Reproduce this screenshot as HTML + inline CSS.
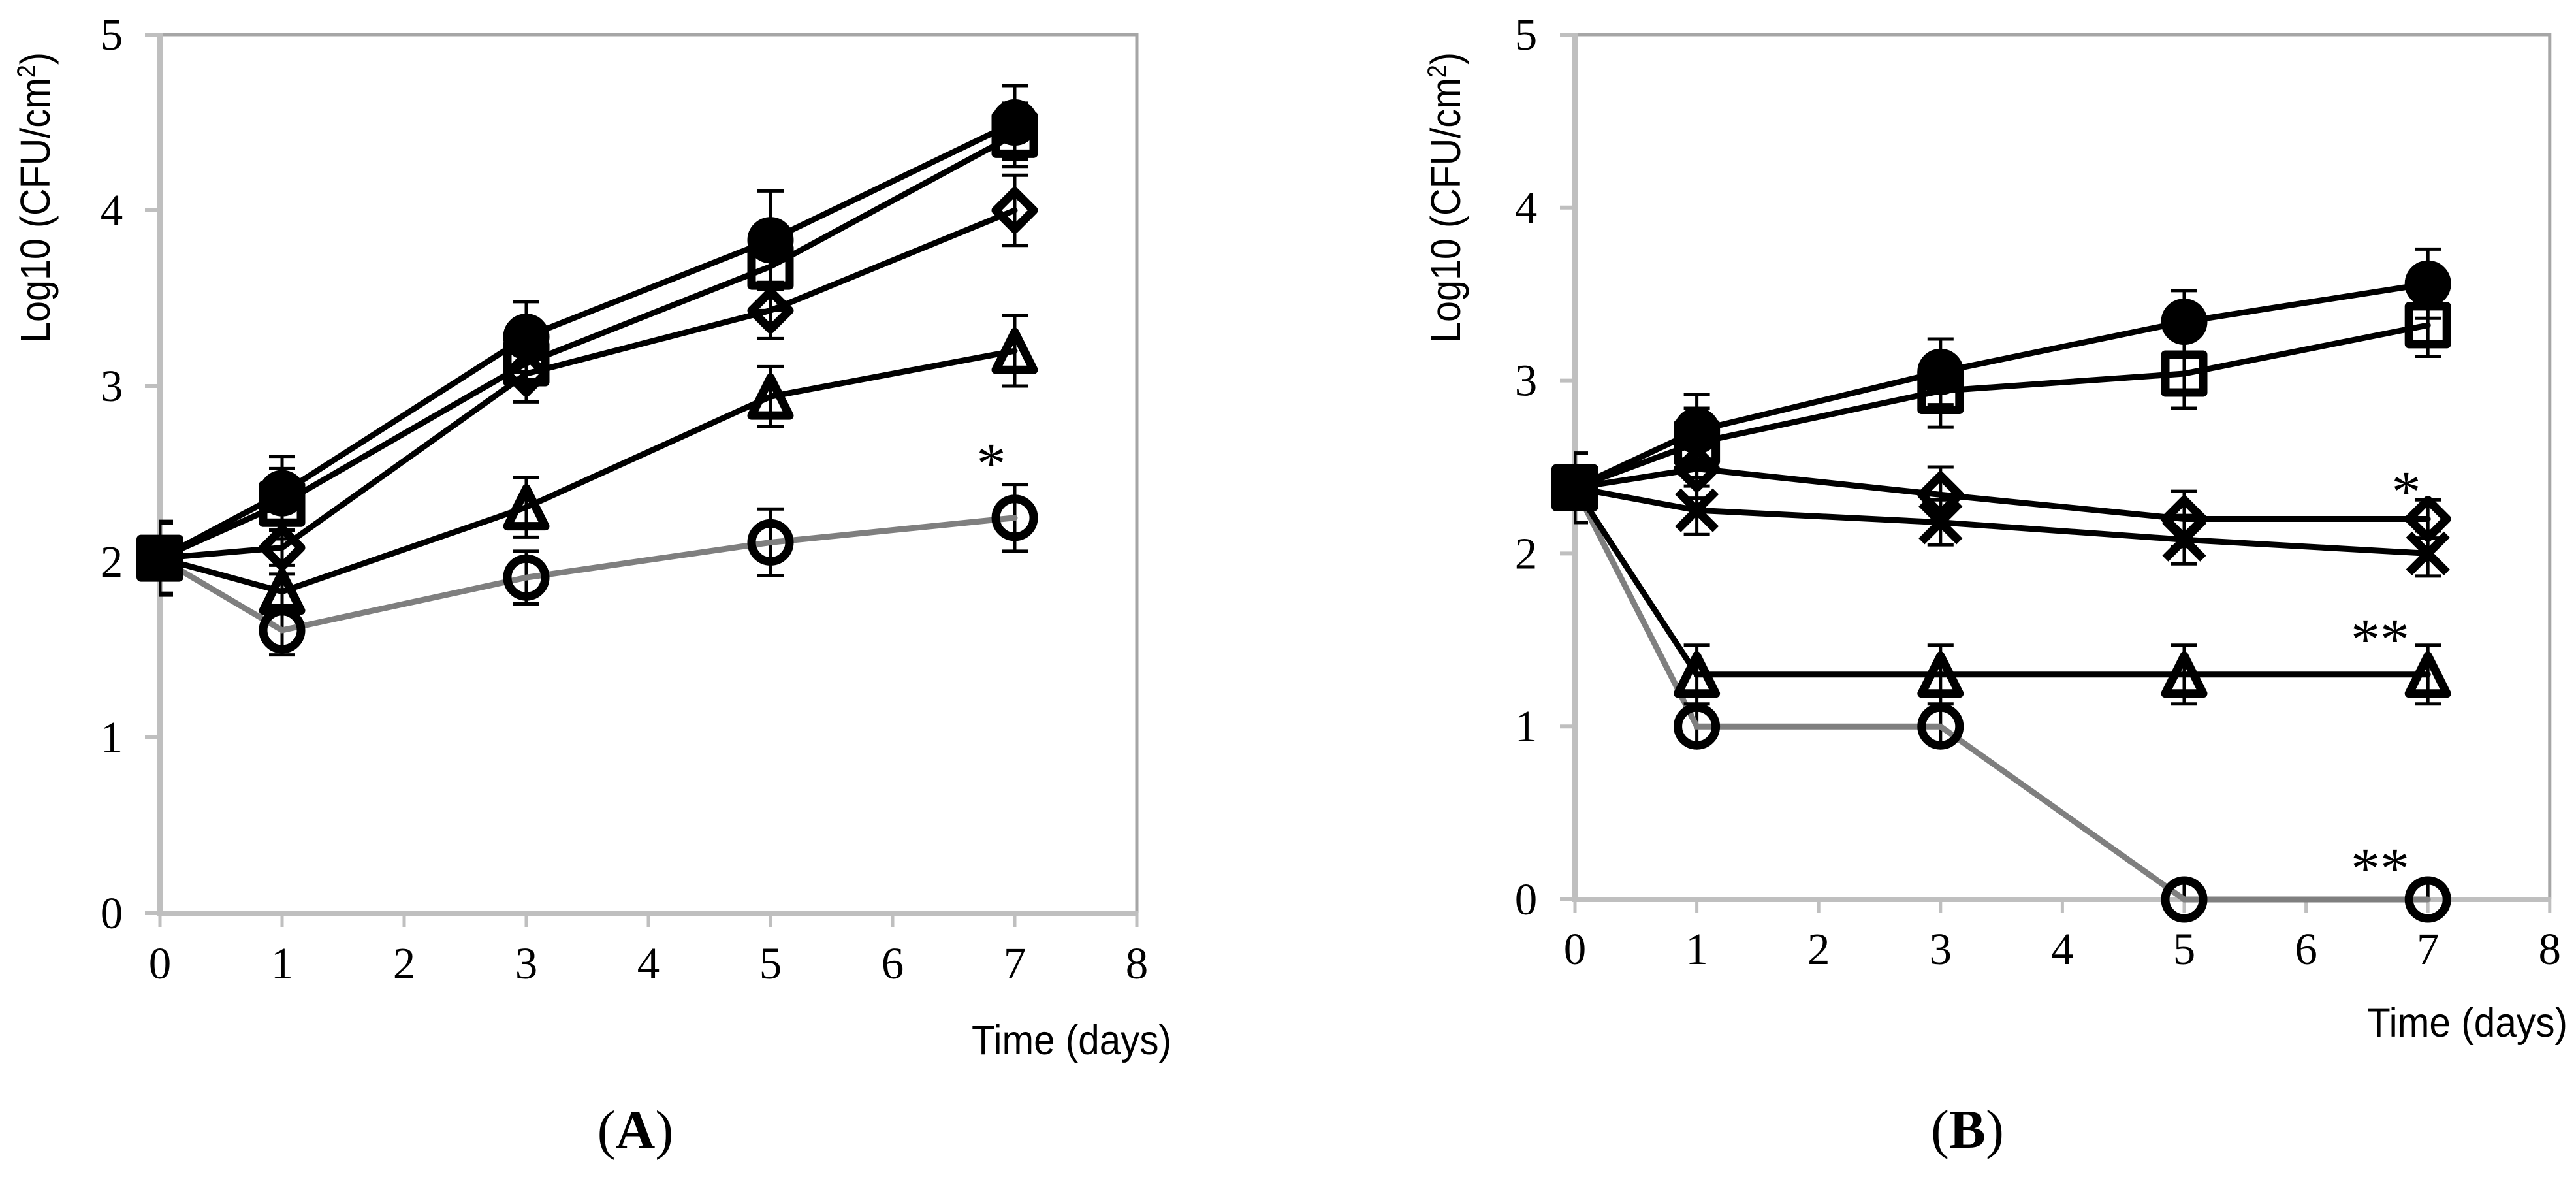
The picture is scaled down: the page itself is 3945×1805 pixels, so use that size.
<!DOCTYPE html>
<html lang="en">
<head>
<meta charset="utf-8">
<title>Log10 CFU/cm2 over time, panels A and B</title>
<style>
html,body{margin:0;padding:0;background:#fff;width:3945px;height:1805px;overflow:hidden}
svg{display:block}
.tick{font-family:"Liberation Serif",serif;font-size:69px;fill:#000;text-anchor:middle}
.title{font-family:"Liberation Sans",sans-serif;font-size:64px;fill:#000}
.caption{font-family:"Liberation Serif",serif;font-size:84px;fill:#000;text-anchor:middle}
.star{font-family:"Liberation Serif",serif;font-size:90px;fill:#000;text-anchor:middle}
</style>
</head>
<body>
<svg id="figure" xmlns="http://www.w3.org/2000/svg" width="3945" height="1805" viewBox="0 0 3945 1805">
  <rect width="3945" height="1805" fill="#fff"/>
  <g id="panelA"></g>
  <g id="panelB"></g>

  <text class="title" transform="translate(76,525) rotate(-90)" textLength="445" lengthAdjust="spacingAndGlyphs">Log10 (CFU/cm<tspan font-size="40" dy="-22">2</tspan><tspan dy="22">)</tspan></text>
  <text class="title" x="1488" y="1614" textLength="306" lengthAdjust="spacingAndGlyphs" style="font-size:63px">Time (days)</text>
  <text class="caption" x="973" y="1758">(<tspan font-weight="bold">A</tspan>)</text>
  <text class="star" x="1518" y="740">*</text>

  <text class="title" transform="translate(2236,525) rotate(-90)" textLength="445" lengthAdjust="spacingAndGlyphs">Log10 (CFU/cm<tspan font-size="40" dy="-22">2</tspan><tspan dy="22">)</tspan></text>
  <text class="title" x="3625" y="1587" textLength="307" lengthAdjust="spacingAndGlyphs" style="font-size:63px">Time (days)</text>
  <text class="caption" x="3013" y="1757">(<tspan font-weight="bold">B</tspan>)</text>
  <text class="star" x="3685" y="783">*</text>
  <text class="star" x="3645" y="1009">**</text>
  <text class="star" x="3645" y="1360">**</text>
</svg>

<script>
// Shared axes data
const days = [0, 1, 3, 5, 7];
const xTickLabels = [0, 1, 2, 3, 4, 5, 6, 7, 8];
const yTickLabels = [0, 1, 2, 3, 4, 5];

// Panel A values (log10 CFU/cm2) and error bars
const openCircleA = [2.02, 1.61, 1.91, 2.11, 2.25];
const openCircleErrA = [0.20, 0.14, 0.15, 0.19, 0.19];
const triangleA = [2.02, 1.83, 2.31, 2.94, 3.20];
const triangleErrA = [0.20, 0.10, 0.17, 0.17, 0.20];
const diamondA = [2.02, 2.08, 3.07, 3.43, 4.00];
const diamondErrA = [0.20, 0.10, 0.16, 0.16, 0.20];
const squareA = [2.02, 2.33, 3.13, 3.68, 4.43];
const squareErrA = [0.20, 0.20, 0.22, 0.25, 0.18];
const filledCircleA = [2.02, 2.39, 3.28, 3.83, 4.50];
const filledCircleErrA = [0.21, 0.21, 0.20, 0.28, 0.21];

// Panel B values (log10 CFU/cm2) and error bars
const openCircleB = [2.38, 1.00, 1.00, 0.00, 0.00];
const openCircleErrB = [0.20, 0.10, 0.10, 0.10, 0.10];
const triangleB = [2.38, 1.30, 1.30, 1.30, 1.30];
const triangleErrB = [0.20, 0.17, 0.17, 0.17, 0.17];
const crossB = [2.38, 2.25, 2.18, 2.08, 2.00];
const crossErrB = [0.20, 0.14, 0.13, 0.14, 0.13];
const diamondB = [2.38, 2.49, 2.34, 2.20, 2.20];
const diamondErrB = [0.20, 0.17, 0.16, 0.16, 0.11];
const squareB = [2.38, 2.64, 2.94, 3.04, 3.32];
const squareErrB = [0.20, 0.20, 0.21, 0.20, 0.18];
const filledCircleB = [2.38, 2.71, 3.05, 3.34, 3.56];
const filledCircleErrB = [0.20, 0.21, 0.19, 0.18, 0.20];

const NS = 'http://www.w3.org/2000/svg';

function make(parent, tag, attrs, text) {
  const el = document.createElementNS(NS, tag);
  for (const k in attrs) el.setAttribute(k, attrs[k]);
  if (text !== undefined) el.textContent = text;
  parent.appendChild(el);
  return el;
}

function markerPath(kind, cx, cy) {
  const s = 29;
  if (kind === 'square') return `M${cx - s} ${cy - s}H${cx + s}V${cy + s}H${cx - s}Z`;
  if (kind === 'diamond') return `M${cx} ${cy - s}L${cx + s} ${cy}L${cx} ${cy + s}L${cx - s} ${cy}Z`;
  if (kind === 'triangle') return `M${cx} ${cy - s}L${cx + s} ${cy + s}H${cx - s}Z`;
  if (kind === 'cross') return `M${cx - s} ${cy - s}L${cx + s} ${cy + s}M${cx + s} ${cy - s}L${cx - s} ${cy + s}`;
  return '';
}

function drawPanel(root, id, opt, series) {
  const x = d => opt.x0 + d * opt.xStep;
  const y = v => opt.y0 - v * opt.yStep;
  const xMax = x(8);
  const yTop = y(5);

  const defs = make(root, 'defs', {});
  const clip = make(defs, 'clipPath', { id: id + '-clip' });
  make(clip, 'rect', { x: opt.x0 - 2, y: yTop - 4, width: xMax - opt.x0 + 6, height: opt.y0 - yTop + 4 });

  // Plot frame, top and right
  const frame = make(root, 'path', { d: `M${opt.x0} ${yTop}H${xMax}V${opt.y0}`, fill: 'none', stroke: '#a6a6a6', 'stroke-width': 5 });
  
  

  // Y axis
  const yAxis = make(root, 'line', { x1: opt.x0, x2: opt.x0, y1: yTop - 3, y2: opt.y0 + 3, stroke: '#bfbfbf', 'stroke-width': 8 });
  
  

  yTickLabels.forEach(v => {
    const tick = make(root, 'line', { x1: opt.x0 - 23, x2: opt.x0, y1: y(v), y2: y(v), stroke: '#bfbfbf', 'stroke-width': 6 });
    
    
    const label = make(root, 'text', { class: 'tick', x: opt.yLabelX, y: y(v) + 23 }, String(v));
    
    
  });

  // X axis
  const xAxis = make(root, 'line', { x1: opt.x0 - 4, x2: xMax + 2, y1: opt.y0, y2: opt.y0, stroke: '#bfbfbf', 'stroke-width': 8 });
  
  

  xTickLabels.forEach(d => {
    const tick = make(root, 'line', { x1: x(d), x2: x(d), y1: opt.y0, y2: opt.y0 + 21, stroke: '#bfbfbf', 'stroke-width': 5 });
    
    
    const label = make(root, 'text', { class: 'tick', x: x(d), y: opt.xLabelY }, String(d));
    
    
  });

  // Series: error bars under the line, markers over it
  series.forEach(s => {
    const g = make(root, 'g', {});
    
    

    const bars = make(g, 'g', { 'clip-path': `url(#${id}-clip)`, stroke: '#000', 'stroke-width': 5, fill: 'none' });
    
    
    days.forEach((d, i) => {
      const px = x(d);
      const hi = y(s.values[i] + s.errs[i]);
      const lo = y(s.values[i] - s.errs[i]);
      make(bars, 'path', { d: `M${px} ${hi}V${lo}M${px - 20} ${hi}H${px + 20}M${px - 20} ${lo}H${px + 20}` });
    });

    const pts = days.map((d, i) => `${x(d)},${y(s.values[i])}`).join(' ');
    const line = make(g, 'polyline', { points: pts, fill: 'none', stroke: s.color, 'stroke-width': 9, 'stroke-linejoin': 'miter', 'stroke-linecap': 'round' });
    
    

    days.forEach((d, i) => {
      if (i === 0) return;
      const px = x(d), py = y(s.values[i]);
      let m;
      if (s.kind === 'circle' || s.kind === 'filled') {
        m = make(g, 'circle', { cx: px, cy: py, r: 29, fill: s.kind === 'filled' ? '#000' : 'none', stroke: '#000', 'stroke-width': 13 });
      } else {
        m = make(g, 'path', { d: markerPath(s.kind, px, py), fill: 'none', stroke: '#000', 'stroke-width': 13, 'stroke-linejoin': 'round' });
      }
      
      
    });
  });

  // Shared filled starting marker at day 0
  const first = series[series.length - 1];
  const start = make(root, 'path', { d: markerPath('square', x(days[0]), y(first.values[0])), fill: '#000', stroke: '#000', 'stroke-width': 14, 'stroke-linejoin': 'round' });
  
  
}

drawPanel(document.getElementById('panelA'), 'panel-a',
  { x0: 245, xStep: 187, y0: 1398, yStep: 269, yLabelX: 171, xLabelY: 1498 },
  [
    { name: 'open-circle', kind: 'circle', color: '#7f7f7f', values: openCircleA, errs: openCircleErrA },
    { name: 'triangle', kind: 'triangle', color: '#000', values: triangleA, errs: triangleErrA },
    { name: 'diamond', kind: 'diamond', color: '#000', values: diamondA, errs: diamondErrA },
    { name: 'square', kind: 'square', color: '#000', values: squareA, errs: squareErrA },
    { name: 'filled-circle', kind: 'filled', color: '#000', values: filledCircleA, errs: filledCircleErrA }
  ]);

drawPanel(document.getElementById('panelB'), 'panel-b',
  { x0: 2412, xStep: 186.6, y0: 1377, yStep: 264.8, yLabelX: 2337, xLabelY: 1476 },
  [
    { name: 'open-circle', kind: 'circle', color: '#7f7f7f', values: openCircleB, errs: openCircleErrB },
    { name: 'triangle', kind: 'triangle', color: '#000', values: triangleB, errs: triangleErrB },
    { name: 'cross', kind: 'cross', color: '#000', values: crossB, errs: crossErrB },
    { name: 'diamond', kind: 'diamond', color: '#000', values: diamondB, errs: diamondErrB },
    { name: 'square', kind: 'square', color: '#000', values: squareB, errs: squareErrB },
    { name: 'filled-circle', kind: 'filled', color: '#000', values: filledCircleB, errs: filledCircleErrB }
  ]);
</script>
</body>
</html>
